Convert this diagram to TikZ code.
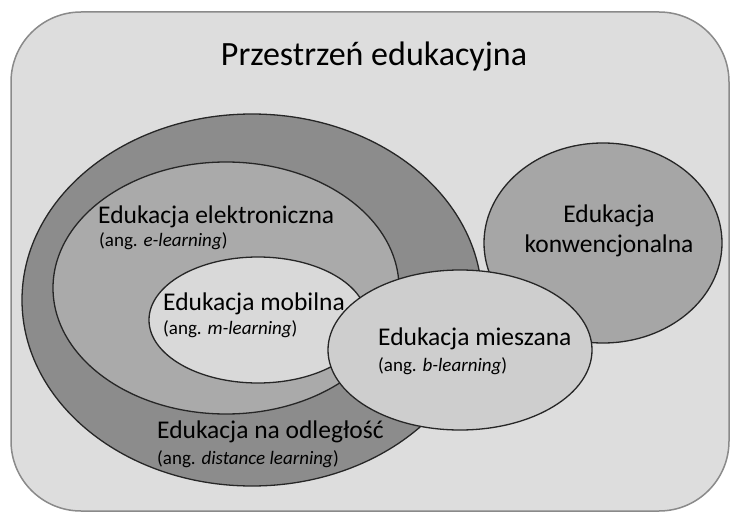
\documentclass[tikz,border=0pt]{standalone}
\usepackage{fontspec}
\setmainfont{Carlito}
\definecolor{bggray}{HTML}{DDDDDD}
\definecolor{bordergray}{HTML}{8A8A8A}
\definecolor{distgray}{HTML}{8C8C8C}
\definecolor{elgray}{HTML}{AAAAAA}
\definecolor{mobgray}{HTML}{D9D9D9}
\definecolor{mixgray}{HTML}{CECECE}
\definecolor{konwgray}{HTML}{A6A6A6}

\begin{document}
\begin{tikzpicture}[x=1pt, y=-1pt]
    \tikzstyle area=[draw=black!85, line width=1.3pt]
    \tikzstyle maintext=[anchor=base west, inner sep=0pt, font=\fontsize{25.5}{30}\selectfont]
    \tikzstyle angtext=[anchor=base west, inner sep=0pt, font=\fontsize{19}{22}\selectfont]
    \useasboundingbox (0,0) rectangle (731,516);
    \draw[draw=bordergray, fill=bggray, line width=1.5pt, rounded corners=70pt]
    (11,12) rectangle (729,511);
    \node[anchor=base, inner sep=0pt, font=\fontsize{34}{40}\selectfont] (title)
    at (374,66) {Przestrzeń edukacyjna};
    \draw[area, fill=konwgray] (603,243) ellipse [x radius=119pt, y radius=100pt];
    \draw[area, fill=distgray] (252,300) ellipse [x radius=230pt, y radius=186pt];
    \draw[area, fill=elgray] (226,288) ellipse [x radius=173pt, y radius=126pt];
    \draw[area, fill=mobgray] (258,320) ellipse [x radius=109pt, y radius=63pt];
    \draw[area, fill=mixgray] (460,350) ellipse [x radius=132pt, y radius=80pt];
    \node[maintext, anchor=base] (konw) at (609,222) {Edukacja};
    \node[maintext, anchor=base] (konw2) at (609,252) {konwencjonalna};
    \node[maintext] (elek) at (98,223) {Edukacja elektroniczna};
    \node[angtext] (elekang) at (99,246) {(ang. \textit{e-learning})};
    \node[maintext] (mob) at (163,310) {Edukacja mobilna};
    \node[angtext] (mobang) at (163,334) {(ang. \textit{m-learning})};
    \node[maintext] (mix) at (378,345) {Edukacja mieszana};
    \node[angtext] (mixang) at (378,371) {(ang. \textit{b-learning})};
    \node[maintext] (dist) at (157,438) {Edukacja na odległość};
    \node[angtext] (distang) at (157,464) {(ang. \textit{distance learning})};
\end{tikzpicture}
\end{document}
